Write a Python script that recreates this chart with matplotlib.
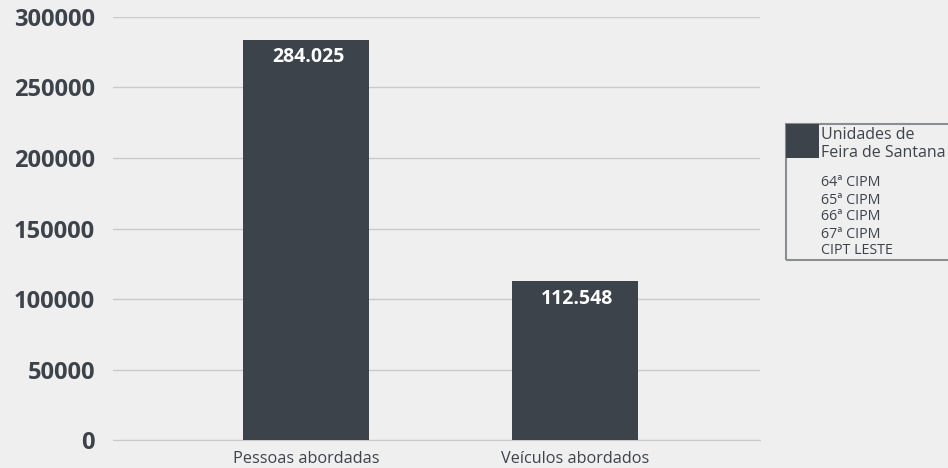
import matplotlib
matplotlib.use("Agg")
import matplotlib.pyplot as plt
from matplotlib.patches import Rectangle

categories = ["Pessoas abordadas", "Veículos abordados"]
values = [284025, 112548]
value_labels = ["284.025", "112.548"]
yticks = [0, 50000, 100000, 150000, 200000, 250000, 300000]
legend_title = "Unidades de\nFeira de Santana"
legend_items = ["64ª CIPM", "65ª CIPM", "66ª CIPM", "67ª CIPM", "CIPT LESTE"]

bg = "#efefef"
bar_color = "#3d434b"
grid_color = "#c9cace"

plt.rcParams["font.family"] = ["Open Sans", "DejaVu Sans"]

fig = plt.figure(figsize=(9.48, 4.68), dpi=100, facecolor=bg)
ax = fig.add_axes([0.1192, 0.0598, 0.6825, 0.9039], facecolor=bg)

x = list(range(len(categories)))
bars = ax.bar(x, values, width=0.47, color=bar_color, zorder=3)
ax.set_xlim(-0.717, 1.688)
ax.set_ylim(0, 300000)
ax.set_yticks(yticks)
ax.set_yticklabels([str(v) for v in yticks], fontsize=17, fontweight="bold", color=bar_color)
ax.set_xticks(x)
ax.set_xticklabels(categories, fontsize=11.7, color=bar_color)
ax.tick_params(axis="both", length=0)
ax.tick_params(axis="y", pad=13)
ax.tick_params(axis="x", pad=8)
ax.grid(axis="y", color=grid_color, linewidth=1, zorder=0)
for s in ["top", "right", "left"]:
    ax.spines[s].set_visible(False)
ax.spines["bottom"].set_color(grid_color)

for b, lab in zip(bars, value_labels):
    ax.annotate(lab, (b.get_x() + b.get_width() / 2, b.get_height()),
                xytext=(1.5, -12.5), textcoords="offset points",
                ha="center", va="center", color="white", fontsize=14, fontweight="bold")

# Legend panel on the right
W, H = 948, 468
def fx(px):
    return px / W
def fy(py):
    return 1 - py / H

fig.patches.append(Rectangle((fx(786), fy(260)), fx(175), (260 - 124) / H,
                             transform=fig.transFigure, facecolor="none",
                             edgecolor="#8a8d92", linewidth=1.5))
fig.patches.append(Rectangle((fx(786), fy(158)), fx(33), (158 - 124) / H,
                             transform=fig.transFigure, facecolor=bar_color,
                             edgecolor="none"))
fig.text(fx(821), fy(135), "Unidades de", ha="left", va="center",
         fontsize=11.5, color=bar_color)
fig.text(fx(821), fy(153), "Feira de Santana", ha="left", va="center",
         fontsize=11.5, color=bar_color)
for i, item in enumerate(legend_items):
    fig.text(fx(821), fy(183 + i * 17), item, ha="left", va="center",
             fontsize=10.3, color=bar_color)

fig.savefig("out.png", dpi=100, facecolor=bg)
